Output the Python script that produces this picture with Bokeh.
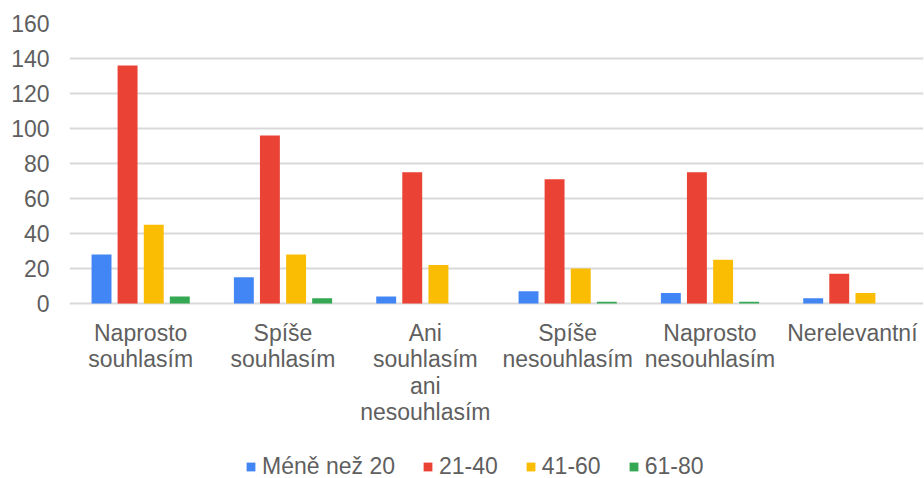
from bokeh.plotting import figure
from bokeh.models import (ColumnDataSource, Legend, LegendItem, FactorRange, Range1d,
                          FixedTicker, LabelSet)
from bokeh.core.properties import value
from bokeh.transform import dodge
from bokeh.embed import file_html
from bokeh.resources import INLINE

categories = ["Naprosto souhlasím", "Spíše souhlasím", "Ani souhlasím ani nesouhlasím",
              "Spíše nesouhlasím", "Naprosto nesouhlasím", "Nerelevantní"]
category_lines = [["Naprosto", "souhlasím"], ["Spíše", "souhlasím"],
                  ["Ani", "souhlasím", "ani", "nesouhlasím"],
                  ["Spíše", "nesouhlasím"], ["Naprosto", "nesouhlasím"], ["Nerelevantní"]]
series_names = ["Méně než 20", "21-40", "41-60", "61-80"]
mene_nez_20 = [28, 15, 4, 7, 6, 3]
v21_40 = [136, 96, 75, 71, 75, 17]
v41_60 = [45, 28, 22, 20, 25, 6]
v61_80 = [4, 3, 0, 1, 1, 0]
y_ticks = [0, 20, 40, 60, 80, 100, 120, 140, 160]

colors = ["#4285f4", "#ea4335", "#fbbc04", "#34a853"]
offsets = [-0.275, -0.092, 0.092, 0.275]
FONT = "Liberation Sans"
TEXT_COLOR = "#5f5f5f"

W, H = 924, 478
LEFT, TOP = 69, 23
FRAME_W = 854
FRAME_H = H - TOP
PLOT_H = 280                      # pixel height of the 0..160 value band
PX_PER_UNIT = PLOT_H / 160
Y_START = 160 - FRAME_H / PX_PER_UNIT   # extra room below 0 for category labels + legend
LINE_BASELINES_PX = [37, 63.5, 90, 116.5]

source = ColumnDataSource(data=dict(cat=categories, s0=mene_nez_20, s1=v21_40, s2=v41_60, s3=v61_80))

p = figure(x_range=FactorRange(*categories), y_range=Range1d(Y_START, 160),
           width=W, height=H, frame_width=FRAME_W, frame_height=FRAME_H,
           min_border_left=LEFT, min_border_top=TOP, min_border_right=W - LEFT - FRAME_W,
           min_border_bottom=0,
           output_backend="svg", toolbar_location=None)
p.outline_line_color = None
p.background_fill_color = "white"

renderers = []
for i, key in enumerate(["s0", "s1", "s2", "s3"]):
    r = p.vbar(x=dodge("cat", offsets[i], range=p.x_range), top=key, width=0.14,
               source=source, fill_color=colors[i], line_color=None)
    renderers.append(r)

p.xgrid.grid_line_color = None
p.ygrid.grid_line_color = "#d9d9d9"
p.ygrid.grid_line_width = 2
p.yaxis.ticker = FixedTicker(ticks=y_ticks)

p.xaxis.visible = False
ax = p.yaxis[0]
ax.axis_line_color = None
ax.major_tick_line_color = None
ax.minor_tick_line_color = None
ax.major_tick_out = 0
ax.major_tick_in = 0
ax.major_label_text_font = FONT
ax.major_label_text_font_size = "23px"
ax.major_label_text_color = TEXT_COLOR
ax.major_label_standoff = 20

# multi-line category labels
lx, ly, lt = [], [], []
for cat, lines in zip(categories, category_lines):
    for j, line in enumerate(lines):
        lx.append(cat)
        ly.append(-LINE_BASELINES_PX[j] / PX_PER_UNIT)
        lt.append(line)
label_src = ColumnDataSource(data=dict(x=lx, y=ly, text=lt))
labels = LabelSet(x="x", y="y", text="text", source=label_src, text_align="center",
                  text_baseline="alphabetic", text_font=value(FONT),
                  text_font_size=value("23px"), text_color=value(TEXT_COLOR))
p.add_layout(labels)

legend = Legend(items=[LegendItem(label=series_names[i], renderers=[renderers[i]]) for i in range(4)],
                orientation="horizontal", location=(176, -2), padding=0, margin=0,
                spacing=27, label_standoff=6, glyph_width=11, glyph_height=11,
                border_line_color=None, background_fill_alpha=0,
                label_text_font=FONT, label_text_font_size="23px", label_text_color=TEXT_COLOR)
p.add_layout(legend, "center")

open("out.html", "w").write(file_html(p, INLINE))
